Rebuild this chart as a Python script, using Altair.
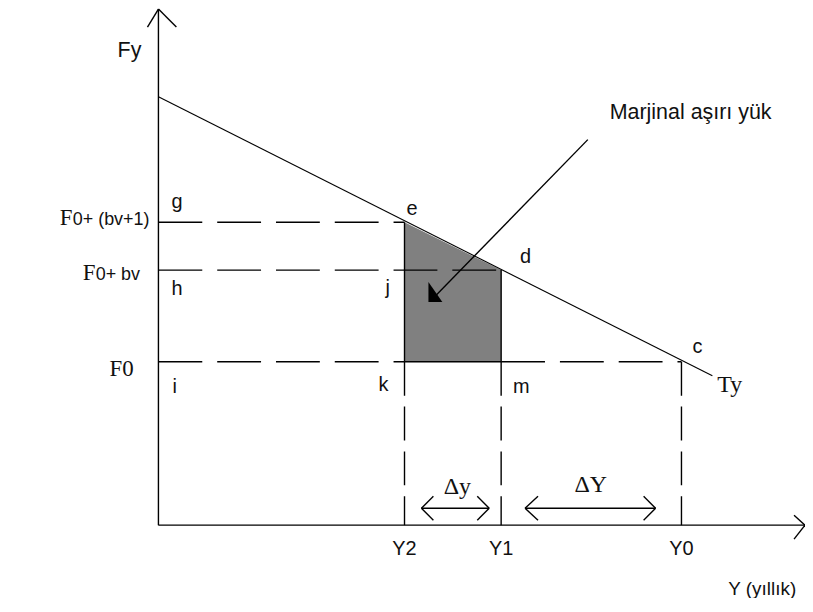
import altair as alt
import pandas as pd

# ---- schematic values (x: output Y, y: price F), origin of the axes = (0, 0)
y_names = ["Y2", "Y1", "Y0"]
y_vals = [247, 344, 525]
f_names = ["F0", "F0+ bv", "F0+ (bv+1)"]
f_vals = [164, 256, 304]
ty_x = [0, 556]          # demand line Ty
ty_y = [430, 150]
x_axis_end = 649
y_axis_end = 518

Y2, Y1, Y0 = y_vals
F0, F1, F2 = f_vals

xs = alt.Scale(domain=[-151, 649], nice=False, zero=False)
ys = alt.Scale(domain=[-72, 518], nice=False, zero=False)


def rules(segs):
    return pd.DataFrame(segs, columns=["x", "y", "x2", "y2"])


def X(f="x"):
    return alt.X(f"{f}:Q", scale=xs, axis=None)


def Yc(f="y"):
    return alt.Y(f"{f}:Q", scale=ys, axis=None)


# solid segments
solid = rules([
    (0, 0, 0, y_axis_end),                  # y axis
    (0, 0, x_axis_end, 0),                  # x axis
    (0, y_axis_end, -11, y_axis_end - 18),  # y arrow
    (0, y_axis_end, 18, y_axis_end - 18),
    (x_axis_end, 0, x_axis_end - 11, 10),   # x arrow
    (x_axis_end, 0, x_axis_end - 11, -14),
    (Y2, F2, Y2, F0),                       # e-k
    (Y1, F1, Y1, F0),                       # d-m
    (Y2, F0, Y1, F0),                       # k-m
    # Δy double arrow
    (264, 17, 332, 17), (264, 17, 276, 29), (264, 17, 276, 5),
    (332, 17, 320, 29), (332, 17, 320, 5),
    # ΔY double arrow
    (368, 17, 499, 17), (368, 17, 381, 29), (368, 17, 381, 5),
    (499, 17, 487, 29), (499, 17, 487, 5),
    # pointer from "Marjinal aşırı yük"
    (431, 387, 276, 228),
])

dash_h = rules([
    (0, F2, Y2, F2),
    (0, F1, Y1, F1),
    (0, F0, Y2, F0),
    (Y1, F0, Y0, F0),
])

dash_v = rules([
    (Y2, F0, Y2, 0),
    (Y1, F0, Y1, 0),
    (Y0, F0, Y0, 0),
])

ty = rules([(ty_x[0], ty_y[0], ty_x[1], ty_y[1])])

shade = pd.DataFrame({"x": [Y2, Y1], "y": [F2, F1], "y2": [F0, F0]})
head = pd.DataFrame({"x": [271, 285], "y": [244, 224], "y2": [224, 224]})


def rule_layer(df, **mk):
    return alt.Chart(df).mark_rule(color="black", **mk).encode(
        x=X("x"), y=Yc("y"), x2="x2:Q", y2="y2:Q")


letters = pd.DataFrame([
    ("g", 13, 318), ("h", 13, 231), ("i", 14, 133),
    ("e", 249, 311), ("j", 228, 232), ("k", 221, 135), ("d", 363, 263),
    ("m", 356, 133), ("c", 536, 173),
], columns=["t", "x", "y"])

big_sans = pd.DataFrame([
    ("Fy", -41, 470), ("Marjinal aşırı yük", 453, 408),
], columns=["t", "x", "y"])

yl = pd.DataFrame([("Y (yıllık)", 572, -70)], columns=["t", "x", "y"])

left_sans = pd.DataFrame([
    ("0+ (bv+1)", -86, 301), ("0+ bv", -63, 246),
], columns=["t", "x", "y"])

left_serif = pd.DataFrame([
    ("F", -99, 301), ("F", -76, 246), ("F0", -49, 150),
], columns=["t", "x", "y"])

serif_big = pd.DataFrame([("Ty", 561, 134)], columns=["t", "x", "y"])

serif_c = pd.DataFrame([
    ("Δy", 300, 31), ("ΔY", 434, 33),
], columns=["t", "x", "y"])

ylab = pd.DataFrame({"t": y_names, "x": y_vals, "y": [-30] * 3})


def text_layer(df, font, size, align="left"):
    return alt.Chart(df).mark_text(
        align=align, baseline="alphabetic", font=font, fontSize=size,
        color="#111111").encode(x=X("x"), y=Yc("y"), text="t:N")


SANS = "Liberation Sans"
SERIF = "Liberation Serif"

layers = [
    alt.Chart(shade).mark_area(color="#808080", opacity=1).encode(
        x=X("x"), y=Yc("y"), y2="y2:Q"),
    rule_layer(dash_h, strokeWidth=1.4, strokeDash=[44, 15]),
    rule_layer(dash_v, strokeWidth=1.4, strokeDash=[34, 11]),
    rule_layer(ty, strokeWidth=1.1),
    rule_layer(solid, strokeWidth=1.4),
    alt.Chart(head).mark_area(color="black", opacity=1).encode(
        x=X("x"), y=Yc("y"), y2="y2:Q"),
    text_layer(letters, SANS, 20),
    text_layer(big_sans, SANS, 21.5),
    text_layer(yl, SANS, 19),
    text_layer(left_sans, SANS, 18),
    text_layer(left_serif, SERIF, 23),
    text_layer(serif_big, SERIF, 24),
    text_layer(serif_c, SERIF, 24, "center"),
    text_layer(ylab, SANS, 20, "center"),
]

chart = alt.layer(*layers).properties(
    width=800, height=590,
    autosize=alt.AutoSizeParams(type="none"),
    padding=0,
).configure_view(stroke=None)

chart.save("out.html", embed_options={"renderer": "svg", "actions": False})
